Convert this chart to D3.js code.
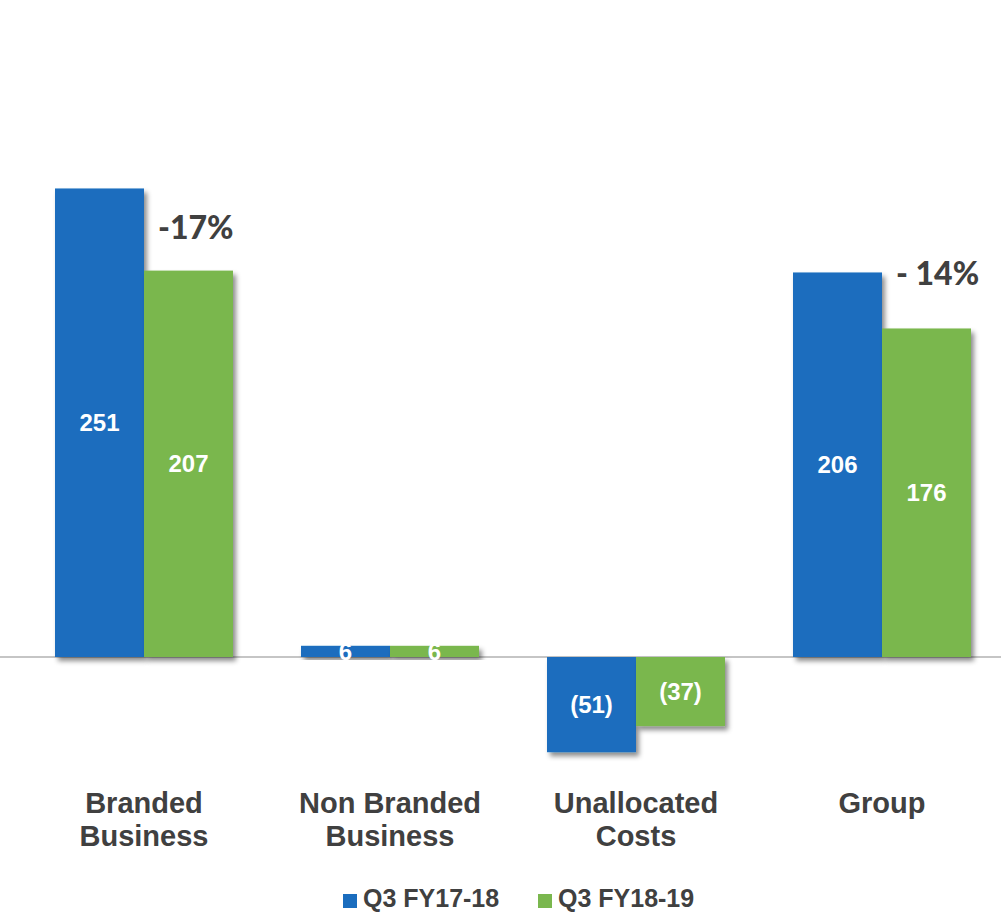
<!DOCTYPE html>
<html>
<head>
<meta charset="utf-8">
<script src="https://cdn.jsdelivr.net/npm/d3@7"></script>
<style>
  body { margin: 0; background: #fff; }
  svg { display: block; }
</style>
</head>
<body>
<svg id="chart"></svg>
<script>
var categories = [["Branded", "Business"], ["Non Branded", "Business"], ["Unallocated", "Costs"], ["Group"]];
var series = ["Q3 FY17-18", "Q3 FY18-19"];
var prevYear = [251, 6, -51, 206];
var currYear = [207, 6, -37, 176];
var changes = [{cat: 0, text: "-17%"}, {cat: 3, text: "- 14%"}];
var colors = ["#1a6dbe", "#7ab74e"];

var width = 1001, height = 912;

var svg = d3.select("#chart")
  .attr("width", width)
  .attr("height", height);

// drop shadow for bars
var defs = svg.append("defs");
var f = defs.append("filter").attr("id", "shadow")
  .attr("x", "-20%").attr("y", "-20%").attr("width", "140%").attr("height", "140%");
f.append("feDropShadow")
  .attr("dx", 3).attr("dy", 4)
  .attr("stdDeviation", 2.5)
  .attr("flood-color", "#000")
  .attr("flood-opacity", 0.45);

var x0 = d3.scaleBand()
  .domain(d3.range(categories.length))
  .range([21, 1005])
  .padding(0);

var x1 = d3.scaleBand()
  .domain(series)
  .range([0, x0.bandwidth()])
  .paddingOuter(0.382)
  .paddingInner(0);

var y = d3.scaleLinear()
  .domain([-60, 300])
  .range([769, 97]);

var data = [];
categories.forEach(function(c, i) {
  data.push({cat: i, s: series[0], v: prevYear[i]});
  data.push({cat: i, s: series[1], v: currYear[i]});
});

// baseline
svg.append("line")
  .attr("x1", 0).attr("x2", width)
  .attr("y1", y(0)).attr("y2", y(0))
  .attr("stroke", "#8c8c8c")
  .attr("stroke-width", 1.2);

// bars
svg.append("g")
  .selectAll("rect")
  .data(data)
  .enter()
  .append("rect")
    .attr("x", function(d) { return x0(d.cat) + x1(d.s); })
    .attr("y", function(d) { return y(Math.max(0, d.v)); })
    .attr("width", x1.bandwidth())
    .attr("height", function(d) { return Math.abs(y(d.v) - y(0)); })
    .attr("fill", function(d) { return colors[series.indexOf(d.s)]; })
    .attr("filter", "url(#shadow)");

// value labels
svg.append("g")
  .selectAll("text")
  .data(data)
  .enter()
  .append("text")
    .attr("x", function(d) { return x0(d.cat) + x1(d.s) + x1.bandwidth() / 2; })
    .attr("y", function(d) { return (y(d.v) + y(0)) / 2; })
    .attr("dy", "0.36em")
    .attr("text-anchor", "middle")
    .style("font-family", "'Liberation Sans', Arial, sans-serif")
    .style("font-weight", "bold")
    .style("font-size", "24px")
    .style("fill", "#fff")
    .text(function(d) { return d.v < 0 ? "(" + (-d.v) + ")" : d.v; });

// change annotations
svg.append("g")
  .selectAll("text")
  .data(changes)
  .enter()
  .append("text")
    .attr("x", function(d) { return x0(d.cat) + x1(series[1]) + 14; })
    .attr("y", function(d) { return d.cat == 0 ? y(prevYear[d.cat]) + 51 : y(prevYear[d.cat]) + 13; })
    .style("font-family", "Lato, 'Open Sans', sans-serif")
    .style("font-weight", "900")
    .style("font-size", "32px")
    .style("fill", "#404040")
    .text(function(d) { return d.text; });

// category labels
var cat = svg.append("g")
  .selectAll("text")
  .data(categories)
  .enter()
  .append("text")
    .attr("x", function(d, i) { return x0(i) + x0.bandwidth() / 2; })
    .attr("y", 813)
    .attr("text-anchor", "middle")
    .style("font-family", "'Liberation Sans', Arial, sans-serif")
    .style("font-weight", "bold")
    .style("font-size", "29px")
    .style("fill", "#404040");

cat.selectAll("tspan")
  .data(function(d) { return d; })
  .enter()
  .append("tspan")
    .attr("x", function() { return d3.select(this.parentNode).attr("x"); })
    .attr("dy", function(d, i) { return i == 0 ? 0 : 33; })
    .text(function(d) { return d; });

// legend
var legendX = [343, 538];
var legend = svg.append("g")
  .selectAll("g")
  .data(series)
  .enter()
  .append("g")
    .attr("transform", function(d, i) { return "translate(" + legendX[i] + ",894)"; });

legend.append("rect")
  .attr("width", 14).attr("height", 14)
  .attr("fill", function(d, i) { return colors[i]; });

legend.append("text")
  .attr("x", 20)
  .attr("y", 13)
  .style("font-family", "'Liberation Sans', Arial, sans-serif")
  .style("font-weight", "bold")
  .style("font-size", "25px")
  .style("fill", "#404040")
  .text(function(d) { return d; });
</script>
</body>
</html>
